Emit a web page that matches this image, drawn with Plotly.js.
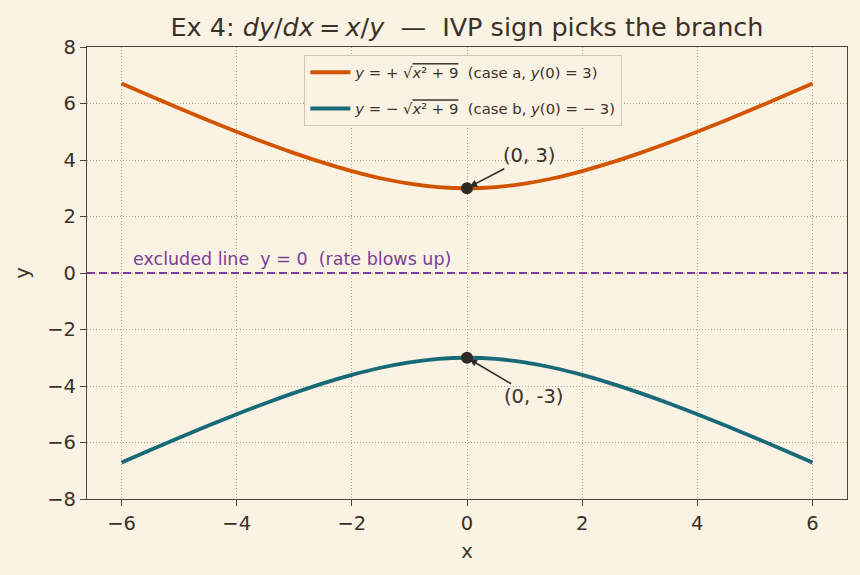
<!DOCTYPE html>
<html><head><meta charset="utf-8">
<script src="https://cdn.plot.ly/plotly-3.0.1.min.js"></script>
<style>body{margin:0;background:#faf3e3;}#c{width:860px;height:575px;}</style>
</head><body><div id="c"></div>
<script>
const xs = [-6,-5.5,-5,-4.5,-4,-3.5,-3,-2.5,-2,-1.5,-1,-0.5,0,0.5,1,1.5,2,2.5,3,3.5,4,4.5,5,5.5,6];
const yUpper = [6.708,6.265,5.831,5.408,5.0,4.610,4.243,3.905,3.606,3.354,3.162,3.041,3.0,3.041,3.162,3.354,3.606,3.905,4.243,4.610,5.0,5.408,5.831,6.265,6.708];
const yLower = [-6.708,-6.265,-5.831,-5.408,-5.0,-4.610,-4.243,-3.905,-3.606,-3.354,-3.162,-3.041,-3.0,-3.041,-3.162,-3.354,-3.606,-3.905,-4.243,-4.610,-5.0,-5.408,-5.831,-6.265,-6.708];
const ivpX = [0,0];
const ivpY = [3,-3];
const ivpLabels = ["(0, 3)","(0, -3)"];
const labelPos = [[1.08,4.15],[1.15,-4.38]];
const excludedX = [-6.6,6.6];
const excludedY = [0,0];

const txt = '#3b3128';
const traces = [
 {x:excludedX,y:excludedY,mode:'lines',line:{color:'#7d3c98',width:2.2,dash:'8px,4px'},showlegend:false,hoverinfo:'skip'},
 {x:xs,y:yUpper,mode:'lines',line:{color:'#d35400',width:3.8,shape:'spline'},legendgroup:'a',
  name:'<i>y</i> = + √<span style="text-decoration:overline"><i>x</i>² + 9</span>  (case a, <i>y</i>(0) = 3)'},
 {x:xs,y:yLower,mode:'lines',line:{color:'#186a78',width:3.8,shape:'spline'},legendgroup:'b',
  name:'<i>y</i> = − √<span style="text-decoration:overline"><i>x</i>² + 9</span>  (case b, <i>y</i>(0) = − 3)'},
 {x:ivpX,y:ivpY,mode:'markers',marker:{color:'#2e2a26',size:12},showlegend:false}
];
const ann = ivpLabels.map((t,i)=>({x:ivpX[i],y:ivpY[i],xref:'x',yref:'y',axref:'x',ayref:'y',
  ax:labelPos[i][0],ay:labelPos[i][1],text:t,showarrow:true,arrowhead:2,arrowsize:1,arrowwidth:1.5,
  arrowcolor:'#2e2a26',standoff:3,font:{size:19.5,color:txt,family:'DejaVu Sans'}}));
ann.push({x:-5.83,y:0.08,xref:'x',yref:'y',xanchor:'left',yanchor:'bottom',text:'excluded line  y = 0  (rate blows up)',
  showarrow:false,font:{size:17.5,color:'#7d3c98',family:'DejaVu Sans'}});
const axis = {showline:true,mirror:true,linecolor:'#4f4437',linewidth:1.3,ticks:'outside',ticklen:6,tickcolor:'#4f4437',tickwidth:1.3,
  gridcolor:'#b3a994',griddash:'1px,2px',gridwidth:1,zeroline:false,tickfont:{size:19.5,color:txt}};
const layout = {
 width:860,height:575,paper_bgcolor:'#faf3e3',plot_bgcolor:'#faf3e3',
 font:{family:'DejaVu Sans',color:txt},
 margin:{l:87,r:13,t:47,b:76},
 title:{text:'Ex 4: <i>dy</i>/<i>dx</i>\u2009=\u2009<i>x</i>/<i>y</i>  —  IVP sign picks the branch',font:{size:25.5,color:txt},
   xref:'paper',x:0.5,xanchor:'center',y:0.953,yanchor:'middle'},
 xaxis:Object.assign({},axis,{range:[-6.6,6.6],tickvals:[-6,-4,-2,0,2,4,6],ticktext:['−6','−4','−2','0','2','4','6'],
   title:{text:'x',font:{size:19.5,color:txt},standoff:10}}),
 yaxis:Object.assign({},axis,{range:[-8,8],tickvals:[-8,-6,-4,-2,0,2,4,6,8],ticktext:['−8','−6','−4','−2','0','2','4','6','8'],
   title:{text:'y',font:{size:19.5,color:txt},standoff:12}}),
 legend:{x:0.286,y:0.982,xanchor:'left',yanchor:'top',bgcolor:'rgba(250,243,227,0.9)',bordercolor:'#cfc6b6',borderwidth:1,
   font:{size:14.8,color:txt},itemwidth:40,tracegroupgap:14},
 annotations:ann,showlegend:true
};
Plotly.newPlot('c',traces,layout,{displayModeBar:false});
</script></body></html>
